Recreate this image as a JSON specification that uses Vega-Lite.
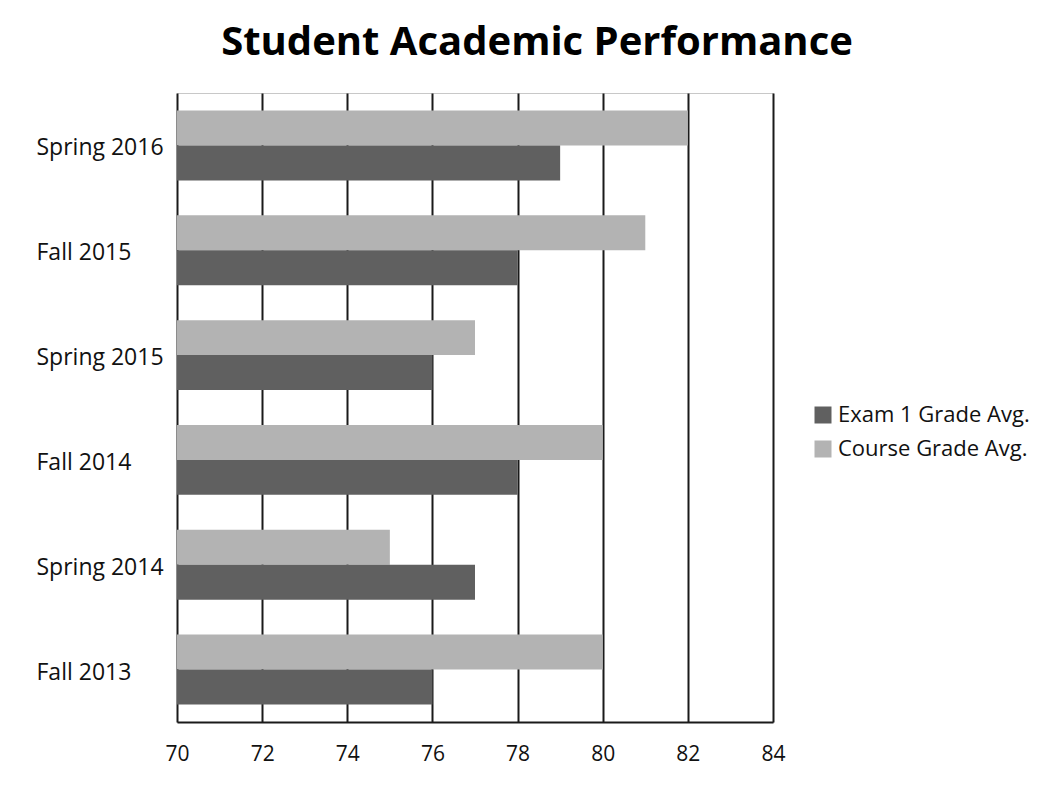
{
  "$schema": "https://vega.github.io/schema/vega-lite/v6.json",
  "autosize": {"type": "none"},
  "width": 596,
  "height": 629,
  "padding": {"left": 177, "top": 93, "right": 283, "bottom": 69},
  "background": "white",
  "title": {
    "text": "Student Academic Performance",
    "font": "Open Sans",
    "fontSize": 40,
    "fontWeight": "bold",
    "color": "#000000",
    "anchor": "middle",
    "dx": 62,
    "offset": 30
  },
  "config": {
    "view": {"stroke": "#c8c8c8", "strokeWidth": 1},
    "font": "Open Sans"
  },
  "data": {
    "values": [
      {"term": "Spring 2016", "series": "Course Grade Avg.", "value": 82},
      {"term": "Spring 2016", "series": "Exam 1 Grade Avg.", "value": 79},
      {"term": "Fall 2015", "series": "Course Grade Avg.", "value": 81},
      {"term": "Fall 2015", "series": "Exam 1 Grade Avg.", "value": 78},
      {"term": "Spring 2015", "series": "Course Grade Avg.", "value": 77},
      {"term": "Spring 2015", "series": "Exam 1 Grade Avg.", "value": 76},
      {"term": "Fall 2014", "series": "Course Grade Avg.", "value": 80},
      {"term": "Fall 2014", "series": "Exam 1 Grade Avg.", "value": 78},
      {"term": "Spring 2014", "series": "Course Grade Avg.", "value": 75},
      {"term": "Spring 2014", "series": "Exam 1 Grade Avg.", "value": 77},
      {"term": "Fall 2013", "series": "Course Grade Avg.", "value": 80},
      {"term": "Fall 2013", "series": "Exam 1 Grade Avg.", "value": 76}
    ]
  },
  "mark": {"type": "bar", "orient": "horizontal"},
  "encoding": {
    "y": {
      "field": "term",
      "type": "nominal",
      "sort": ["Spring 2016", "Fall 2015", "Spring 2015", "Fall 2014", "Spring 2014", "Fall 2013"],
      "scale": {"paddingInner": 0.333, "paddingOuter": 0.167},
      "axis": {
        "title": null,
        "domain": false,
        "ticks": false,
        "tickSize": 0,
        "labelAlign": "left",
        "labelPadding": 141,
        "labelOffset": 3,
        "labelFontSize": 23,
        "labelColor": "#111111",
        "labelFont": "Open Sans"
      }
    },
    "yOffset": {
      "field": "series",
      "type": "nominal",
      "sort": ["Course Grade Avg.", "Exam 1 Grade Avg."],
      "scale": {"paddingInner": 0, "paddingOuter": 0}
    },
    "x": {
      "field": "value",
      "type": "quantitative",
      "scale": {"domain": [70, 84], "zero": false, "nice": false},
      "axis": {
        "title": null,
        "values": [70, 72, 74, 76, 78, 80, 82, 84],
        "grid": true,
        "gridColor": "#1a1a1a",
        "gridWidth": 2,
        "gridOpacity": 1,
        "domainColor": "#1a1a1a",
        "domainWidth": 2,
        "ticks": false,
        "labelFlush": false,
        "labelPadding": 21,
        "labelFontSize": 21,
        "labelColor": "#111111",
        "labelFont": "Open Sans"
      }
    },
    "x2": {"datum": 70},
    "color": {
      "field": "series",
      "type": "nominal",
      "scale": {"domain": ["Exam 1 Grade Avg.", "Course Grade Avg."], "range": ["#606060", "#b3b3b3"]},
      "legend": {
        "title": null,
        "orient": "none",
        "legendX": 635,
        "legendY": 311,
        "symbolType": "square",
        "symbolSize": 289,
        "symbolStrokeWidth": 0,
        "labelFontSize": 22,
        "labelLimit": 400,
        "labelColor": "#111111",
        "labelFont": "Open Sans",
        "labelOffset": 4,
        "rowPadding": 12
      }
    }
  }
}
